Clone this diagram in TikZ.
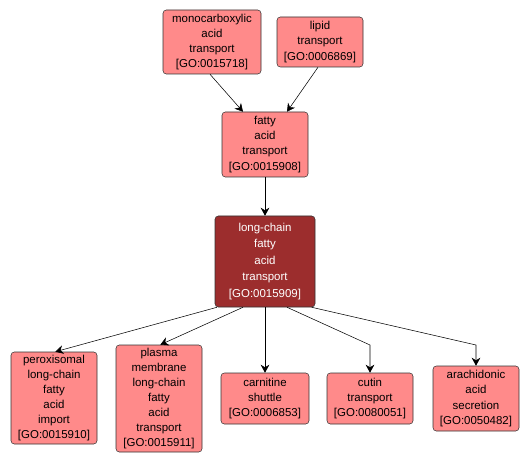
\documentclass[tikz,border=0pt]{standalone}
\usepackage{fontspec}
\setmainfont{Liberation Sans}
\usepackage{tikz}
\usetikzlibrary{positioning,arrows.meta}
\definecolor{goterm}{HTML}{FF8A8A}
\definecolor{gofocus}{HTML}{9C2D2D}

\begin{document}
\begin{tikzpicture}[x=0.75pt,y=-0.75pt,
  term/.style={draw=black!80,fill=goterm,rounded corners=2.5pt,align=center,
    font=\fontsize{8.6}{11.3}\selectfont,inner sep=0pt},
  focus/.style={term,fill=gofocus,text=white,font=\fontsize{8.6}{12.4}\selectfont},
  edge/.style={-{Stealth[length=6pt,width=6.5pt]},thin}]
  \useasboundingbox (0,0) rectangle (531,463);
  % top level terms
  \node[term,minimum width=73.5pt,minimum height=48pt] (mono) at (212,42) {monocarboxylic\\acid\\transport\\{[GO:0015718]}};
  \node[term,minimum width=64.5pt,minimum height=37.5pt] (lipid) at (320,42) {lipid\\transport\\{[GO:0006869]}};
  \node[term,minimum width=64.5pt,minimum height=48.75pt] (fatty) at (265,144.5) {fatty\\acid\\transport\\{[GO:0015908]}};
  \node[focus,minimum width=75pt,minimum height=68.25pt] (long) at (265,261.5) {long-chain\\fatty\\acid\\transport\\{[GO:0015909]}};
  % children
  \node[term,minimum width=64.5pt,minimum height=69pt] (perox) at (54,398) {peroxisomal\\long-chain\\fatty\\acid\\import\\{[GO:0015910]}};
  \node[term,minimum width=64.5pt,minimum height=80.25pt] (plasma) at (159,398.5) {plasma\\membrane\\long-chain\\fatty\\acid\\transport\\{[GO:0015911]}};
  \node[term,minimum width=66pt,minimum height=38.25pt] (carn) at (265,398.5) {carnitine\\shuttle\\{[GO:0006853]}};
  \node[term,minimum width=64.5pt,minimum height=38.25pt] (cutin) at (370,398.5) {cutin\\transport\\{[GO:0080051]}};
  \node[term,minimum width=64.5pt,minimum height=48.75pt] (arach) at (476,398.5) {arachidonic\\acid\\secretion\\{[GO:0050482]}};
  \coordinate (cutbend) at (370,345);
  \coordinate (arabend) at (476,345);
  % edges
  \draw[edge] ([xshift=-1.5pt]mono.south) -- ([xshift=-16.5pt]fatty.north);
  \draw[edge] ([xshift=-1.5pt]lipid.south) -- ([xshift=16.5pt]fatty.north);
  \draw[edge] (fatty) -- (long);
  \draw[edge] ([xshift=-36pt]long.south) -- ([xshift=1pt]perox.north);
  \draw[edge] ([xshift=-16.5pt]long.south) -- ([xshift=1pt]plasma.north);
  \draw[edge] (long) -- (carn);
  \draw[edge] ([xshift=16.5pt]long.south) -- (cutbend) -- (cutin.north);
  \draw[edge] ([xshift=35pt]long.south) -- (arabend) -- (arach.north);
\end{tikzpicture}
\end{document}
